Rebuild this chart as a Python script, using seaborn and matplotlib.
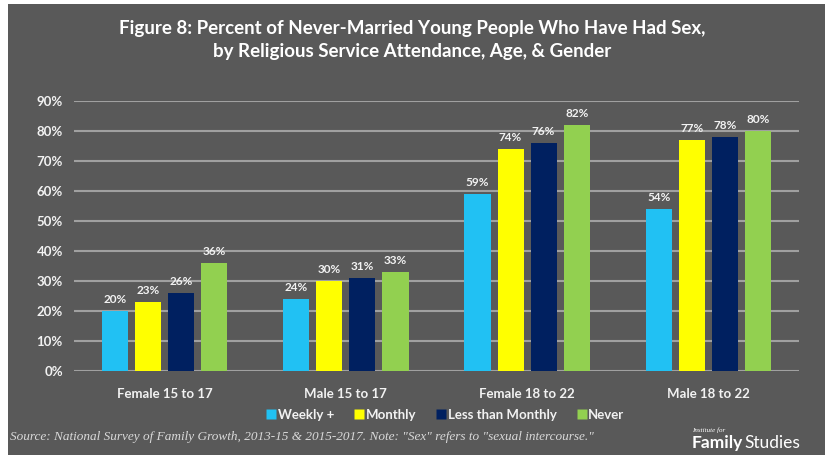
import pandas as pd
import matplotlib
import matplotlib.pyplot as plt
from matplotlib.patches import Rectangle
from matplotlib.lines import Line2D
import seaborn as sns

matplotlib.use("Agg")

groups = ["Female 15 to 17", "Male 15 to 17", "Female 18 to 22", "Male 18 to 22"]
attendance = ["Weekly +", "Monthly", "Less than Monthly", "Never"]
weekly = [20, 24, 59, 54]
monthly = [23, 30, 74, 77]
less_monthly = [26, 31, 76, 78]
never = [36, 33, 82, 80]
colors = ["#21c1f3", "#ffff00", "#002060", "#92d050"]

rows = []
for name, vals in zip(attendance, [weekly, monthly, less_monthly, never]):
    for g, v in zip(groups, vals):
        rows.append({"group": g, "attendance": name, "pct": v / 100})
df = pd.DataFrame(rows)

bg = "#595959"
txt = "#f2f2f2"

sns.set_style("white")
plt.rcParams["font.family"] = ["Lato", "DejaVu Sans"]

fig = plt.figure(figsize=(8.25, 4.55), dpi=100)
fig.patch.set_facecolor("white")
fig.patches.append(Rectangle((8 / 825, 0), 1, 451 / 455, transform=fig.transFigure,
                             facecolor=bg, edgecolor="none", zorder=-10))

ax = fig.add_axes([74 / 825, 1 - 371 / 455, 725 / 825, 270 / 455])
ax.set_facecolor(bg)

sns.barplot(data=df, x="group", y="pct", hue="attendance", order=groups,
            hue_order=attendance, palette=colors, width=0.73, gap=0.21,
            ax=ax, legend=False, saturation=1, linewidth=0, zorder=3)

for cont in ax.containers:
    ax.bar_label(cont, labels=[f"{v * 100:.0f}%" for v in cont.datavalues],
                 padding=4, color=txt, fontsize=8.5, fontweight="bold")

ax.set_ylim(0, 0.9)
ax.set_xlim(-0.5, 3.5)
pcts = list(range(0, 100, 10))
ax.set_yticks([p / 100 for p in pcts])
ax.set_yticklabels([f"{p}%" for p in pcts])
ax.yaxis.grid(True, color="#a0a0a0", linewidth=1.5, zorder=0)
ax.set_axisbelow(True)
ax.tick_params(axis="both", length=0, colors=txt, labelsize=9.5)
ax.tick_params(axis="y", pad=8)
ax.tick_params(axis="x", pad=12)
for lbl in ax.get_xticklabels() + ax.get_yticklabels():
    lbl.set_fontweight("bold")
for s in ax.spines.values():
    s.set_visible(False)
ax.set_xlabel("")
ax.set_ylabel("")

fig.text(0.5, 0.912, "Figure 8: Percent of Never-Married Young People Who Have Had Sex,\n"
         "by Religious Service Attendance, Age, & Gender",
         ha="center", va="center", color="white", fontsize=13.5, fontweight="bold",
         linespacing=1.45)

handles = [Line2D([], [], marker="s", linestyle="none", markersize=7,
                  markerfacecolor=c, markeredgecolor="none") for c in colors]
leg = fig.legend(handles, attendance, loc="center", bbox_to_anchor=(445 / 825, 1 - 415 / 455),
                 ncol=4, frameon=False, handlelength=0.8, handletextpad=0.1,
                 columnspacing=1.5, fontsize=9.5)
for t in leg.get_texts():
    t.set_color(txt)
    t.set_fontweight("bold")

fig.text(10 / 825, 1 - 437 / 455,
         "Source: National Survey of Family Growth, 2013-15 & 2015-2017. Note: \"Sex\" refers to \"sexual intercourse.\"",
         ha="left", va="center", color="#d9d9d9", fontsize=9.5, style="italic",
         family=["Liberation Serif", "DejaVu Serif"])

fig.text(692 / 825, 1 - 430 / 455, "Institute for", ha="left", va="center",
         color="white", fontsize=5, style="italic", family=["Liberation Serif", "DejaVu Serif"])
t1 = fig.text(692 / 825, 1 - 443 / 455, "Family", ha="left", va="center",
              color="white", fontsize=12.5, fontweight="bold")
fig.canvas.draw()
bb = t1.get_window_extent()
fig.text(bb.x1 / fig.bbox.width + 0.002, 1 - 443 / 455, "Studies", ha="left", va="center",
         color="white", fontsize=12.5)

fig.savefig("out.png", dpi=100, facecolor=fig.get_facecolor())
